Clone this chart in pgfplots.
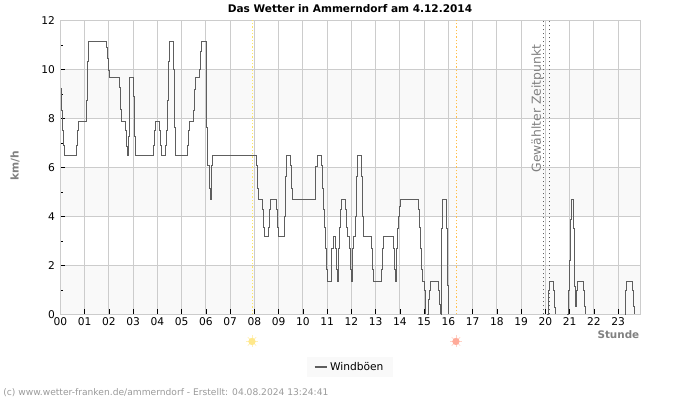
\documentclass[border=0pt]{standalone}
\usepackage{fontspec}
\setmainfont{DejaVu Sans}
\usepackage{pgfplots}
\pgfplotsset{compat=1.18}
\definecolor{band}{HTML}{F9F9F9}
\definecolor{gridc}{HTML}{CCCCCC}
\definecolor{gust}{HTML}{5E5E5E}
\definecolor{labelc}{HTML}{808080}
\definecolor{riseline}{HTML}{FFE866}
\definecolor{setline}{HTML}{FFC04D}
\definecolor{riseray}{HTML}{FFF0B8}
\definecolor{risedot}{HTML}{FFE88A}
\definecolor{setray}{HTML}{FFD2C6}
\definecolor{setdot}{HTML}{FFAA99}
\pgfplotsset{
  gustline/.style={gust,line width=0.6pt,const plot,no marks,forget plot},
  bandfill/.style={fill=band,draw=none,no marks,forget plot,on layer=axis background},
  sunray/.style={only marks,forget plot,mark size=4.5pt,line width=0.5pt},
}
\begin{document}
\begin{tikzpicture}
\path (0,0) rectangle (525pt,300pt);
\begin{axis}[
  at={(45.3pt,64.125pt)},anchor=south west,
  scale only axis,width=434.9pt,height=220.5pt,
  set layers,clip=false,
  xmin=0,xmax=23.91,ymin=0,ymax=12,
  xtick={0,1,...,23},
  xticklabels={00,01,02,03,04,05,06,07,08,09,10,11,12,13,14,15,16,17,18,19,20,21,22,23},
  ytick={0,2,...,12},
  minor y tick num=1,
  xtick pos=bottom,ytick pos=left,
  tick align=inside,
  major tick length=3.75pt,minor tick length=2.25pt,
  tick style={black,line width=0.6pt},
  grid=major,
  major grid style={gridc,line width=0.75pt},
  axis line style={gridc,line width=0.75pt},
  tick label style={font=\fontsize{8}{9}\selectfont},
  /pgf/number format/assume math mode=true,
  xticklabel style={yshift=1pt},
  yticklabel style={xshift=-0.5pt},
  legend style={at={(0.4994,-0.1786)},anchor=center,draw=none,fill=band,
    font=\fontsize{8}{9}\selectfont,inner xsep=5pt,inner ysep=2pt},
  legend image code/.code={\draw[gust,line width=1pt] (0cm,0cm) -- (0.32cm,0cm);},
]
\addplot[bandfill] coordinates {(0,0) (23.91,0) (23.91,2) (0,2)} -- cycle;
\addplot[bandfill] coordinates {(0,4) (23.91,4) (23.91,6) (0,6)} -- cycle;
\addplot[bandfill] coordinates {(0,8) (23.91,8) (23.91,10) (0,10)} -- cycle;

% sunrise, sunset, selected time
\addplot[riseline,line width=0.6pt,dash pattern=on 1pt off 1.5pt,forget plot] coordinates {(7.913,0) (7.913,12)};
\addplot[setline,line width=0.6pt,dash pattern=on 1pt off 1.5pt,forget plot] coordinates {(16.326,0) (16.326,12)};
\addplot[gust,line width=0.75pt,dash pattern=on 1pt off 2pt,forget plot] coordinates {(19.93,0) (19.93,12)};
\addplot[gust,line width=0.75pt,dash pattern=on 1pt off 2pt,forget plot] coordinates {(20.16,0) (20.16,12)};

\addplot[gust,line width=0.6pt,const plot,no marks] coordinates {
(0.02,9.23)(0.04,8.33)(0.08,7.53)(0.12,6.92)(0.16,6.5)(0.66,6.92)(0.70,7.53)(0.74,7.88)
(1.07,8.75)(1.11,10.35)(1.15,11.15)(1.89,10.9)(1.94,10.45)(1.98,9.98)(2.02,9.67)
(2.43,9.27)(2.47,8.37)(2.51,7.88)(2.68,7.53)(2.72,6.85)(2.76,6.5)(2.80,7.25)(2.83,8.9)(2.86,9.67)
(3.01,8.9)(3.05,7.25)(3.09,6.5)(3.83,6.92)(3.87,7.53)(3.91,7.88)(4.08,7.53)(4.12,6.92)(4.16,6.5)
(4.33,6.92)(4.37,7.53)(4.41,8.75)(4.45,10.35)(4.49,11.15)(4.66,10)(4.70,7.65)(4.74,6.5)
(5.23,6.92)(5.27,7.53)(5.32,7.88)(5.48,8.35)(5.52,9.2)(5.56,9.67)(5.73,10)(5.77,10.75)(5.81,11.15)
(6.02,10)(6.04,7.65)(6.08,6.1)(6.14,5.15)(6.18,4.7)(6.22,6.1)(6.27,6.5)
(8.08,6.1)(8.12,5.15)(8.16,4.7)(8.33,4.29)(8.37,3.56)(8.41,3.2)(8.57,3.56)(8.62,4.29)(8.66,4.7)
(8.90,4.29)(8.95,3.56)(8.99,3.2)(9.23,4.0)(9.28,5.65)(9.32,6.5)(9.48,6.1)(9.52,5.15)(9.56,4.7)
(10.51,6.03)(10.60,6.5)(10.76,6.1)(10.80,5.15)(10.84,4.29)(10.88,3.56)(10.93,2.7)(10.97,1.84)(11.01,1.37)
(11.17,2.7)(11.25,3.2)(11.34,2.7)(11.38,1.84)(11.42,1.37)(11.45,2.7)(11.49,3.56)(11.53,4.29)(11.57,4.7)
(11.75,4.29)(11.79,3.56)(11.83,3.2)(11.92,2.7)(11.96,1.84)(12.00,1.37)(12.04,2.7)(12.08,3.2)
(12.15,4.0)(12.19,5.65)(12.23,6.5)(12.41,5.65)(12.45,4.0)(12.49,3.2)(12.82,2.7)(12.86,1.84)(12.90,1.37)
(13.23,1.84)(13.28,2.7)(13.32,3.2)(13.73,2.7)(13.77,1.84)(13.81,1.37)(13.84,2.7)(13.88,3.5)(13.92,4.0)(13.98,4.4)(14.02,4.7)
(14.76,4.29)(14.80,3.56)(14.84,2.7)(14.88,1.84)(14.93,1.37)(15.01,1.0)(15.05,0)
};
\addlegendentry{Windböen}
\addplot[gustline] coordinates {(15.13,0)(15.17,0.6)(15.21,1.0)(15.26,1.37)(15.58,1.0)(15.63,0.4)(15.67,0)};
\addplot[gustline] coordinates {(15.68,0)(15.71,3.5)(15.75,4.7)(15.92,3.5)(15.96,1.2)(16.00,0)};
\addplot[gustline] coordinates {(20.08,0)(20.12,1.0)(20.16,1.37)(20.33,1.0)(20.37,0.3)(20.41,0)};
\addplot[gustline] coordinates {(20.90,0)(20.95,1.0)(20.99,2.2)(21.01,3.9)(21.07,4.7)(21.15,3.5)(21.19,1.13)(21.23,0.32)(21.26,1.0)(21.30,1.37)(21.56,1.0)(21.62,0.32)(21.66,0)};
\addplot[gustline] coordinates {(23.26,0)(23.30,1.0)(23.34,1.37)(23.59,1.0)(23.63,0.32)(23.67,0)};

% sun symbols below the axis
\addplot[riseray,sunray,mark=+] coordinates {(7.9,-1.1)};
\addplot[riseray,sunray,mark=x] coordinates {(7.9,-1.1)};
\addplot[risedot,only marks,forget plot,mark=*,mark size=2.5pt,mark options={draw=risedot,fill=risedot}] coordinates {(7.9,-1.1)};
\addplot[setray,sunray,mark=+] coordinates {(16.31,-1.1)};
\addplot[setray,sunray,mark=x] coordinates {(16.31,-1.1)};
\addplot[setdot,only marks,forget plot,mark=*,mark size=2.5pt,mark options={draw=setdot,fill=setdot}] coordinates {(16.31,-1.1)};
\end{axis}
\node[font=\fontsize{7.9}{9}\selectfont\bfseries] at (262.5pt,293.25pt) {Das Wetter in Ammerndorf am 4.12.2014};
\node[font=\fontsize{8}{9}\selectfont\bfseries,text=labelc,rotate=90] at (11.25pt,175.5pt) {km/h};
\node[font=\fontsize{7.8}{9}\selectfont\bfseries,text=labelc,anchor=east] at (483pt,49pt) {Stunde};
\node[font=\fontsize{9.3}{10}\selectfont,text=labelc,rotate=90,anchor=east] at (403pt,270pt) {Gewählter Zeitpunkt};
\node[font=\fontsize{6.85}{8}\selectfont,text=labelc!80,anchor=west,inner sep=0pt] at (2.25pt,5.25pt) {(c) www.wetter-franken.de/ammerndorf - Erstellt: 04.08.2024 13:24:41};
\end{tikzpicture}
\end{document}
